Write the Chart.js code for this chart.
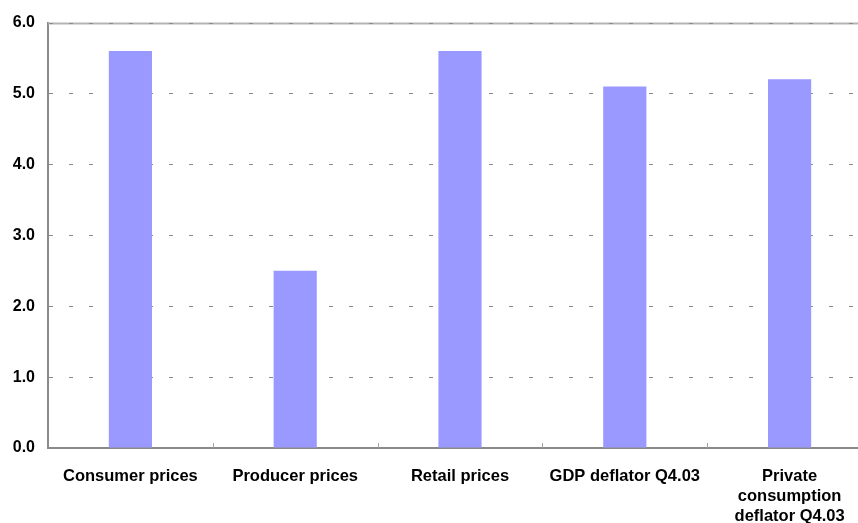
<!DOCTYPE html>
<html>
<head>
<meta charset="utf-8">
<script src="https://cdn.jsdelivr.net/npm/chart.js@4/dist/chart.umd.min.js"></script>
<style>
    html, body { margin: 0; padding: 0; background: #fff; overflow: hidden; }
    #wrap { position: relative; width: 872px; height: 523px; }
</style>
</head>
<body>
<div id="wrap"><canvas id="priceChart"></canvas></div>
<script>
const categories = [
    'Consumer prices',
    'Producer prices',
    'Retail prices',
    'GDP deflator Q4.03',
    ['Private', 'consumption', 'deflator Q4.03']
];
const inflation = [5.6, 2.5, 5.6, 5.1, 5.2];
const yTicks = [0, 1, 2, 3, 4, 5, 6];

const AXIS_GRAY = '#8a8a8a';
const FONT = 'Arial, "Liberation Sans", sans-serif';

// dashed horizontal grid, solid top edge, and the short category dividers on the x axis
const frameLines = {
    id: 'frameLines',
    beforeDatasetsDraw(chart) {
        const { ctx, chartArea, scales } = chart;
        const y = scales.y;
        ctx.save();

        const top = Math.round(y.getPixelForValue(yTicks[yTicks.length - 1])) + 0.5;
        ctx.strokeStyle = '#b4b4b4';
        ctx.lineWidth = 2;
        ctx.beginPath();
        ctx.moveTo(chartArea.left, top);
        ctx.lineTo(chartArea.right, top);
        ctx.stroke();

        ctx.lineWidth = 1;
        ctx.strokeStyle = AXIS_GRAY;
        ctx.setLineDash([4, 16]);
        yTicks.slice(1).forEach(v => {
            const py = Math.round(y.getPixelForValue(v)) + 0.5;
            ctx.beginPath();
            ctx.moveTo(chartArea.left + 1, py);
            ctx.lineTo(chartArea.right, py);
            ctx.stroke();
        });
        ctx.restore();
    },
    afterDraw(chart) {
        const { ctx, chartArea, scales } = chart;
        const x = scales.x;
        ctx.save();
        ctx.strokeStyle = '#a0a0a0';
        ctx.lineWidth = 1;
        for (let i = 1; i < categories.length; i++) {
            const px = Math.round((x.getPixelForValue(i - 1) + x.getPixelForValue(i)) / 2) + 0.5;
            ctx.beginPath();
            ctx.moveTo(px, chartArea.bottom);
            ctx.lineTo(px, chartArea.bottom - 5);
            ctx.stroke();
        }
        ctx.restore();
    }
};

new Chart(document.getElementById('priceChart'), {
    type: 'bar',
    data: {
        labels: categories,
        datasets: [{
            data: inflation,
            backgroundColor: '#9999ff',
            borderWidth: 0,
            categoryPercentage: 1,
            barPercentage: 0.262
        }]
    },
    options: {
        responsive: true,
        maintainAspectRatio: false,
        animation: false,
        layout: { padding: { top: 21, left: 0, right: 0, bottom: 0 } },
        plugins: {
            legend: { display: false },
            tooltip: { enabled: false }
        },
        scales: {
            x: {
                grid: { display: true, drawOnChartArea: false, drawTicks: false },
                border: { display: true, color: AXIS_GRAY, width: 2 },
                ticks: {
                    color: '#000',
                    padding: 18,
                    maxRotation: 0,
                    autoSkip: false,
                    font: { family: FONT, size: 16.5, weight: 'bold', lineHeight: 1.22 }
                },
                afterFit(scale) { scale.height = 75; }
            },
            y: {
                min: 0,
                max: 6,
                afterBuildTicks(scale) { scale.ticks = yTicks.map(v => ({ value: v })); },
                grid: { display: true, drawOnChartArea: false, drawTicks: false },
                border: { display: true, color: AXIS_GRAY, width: 2 },
                ticks: {
                    color: '#000',
                    padding: 13,
                    callback: v => v.toFixed(1),
                    font: { family: FONT, size: 16, weight: 'bold' }
                },
                afterFit(scale) { scale.width = 48; }
            }
        }
    },
    plugins: [frameLines]
});
</script>
</body>
</html>
